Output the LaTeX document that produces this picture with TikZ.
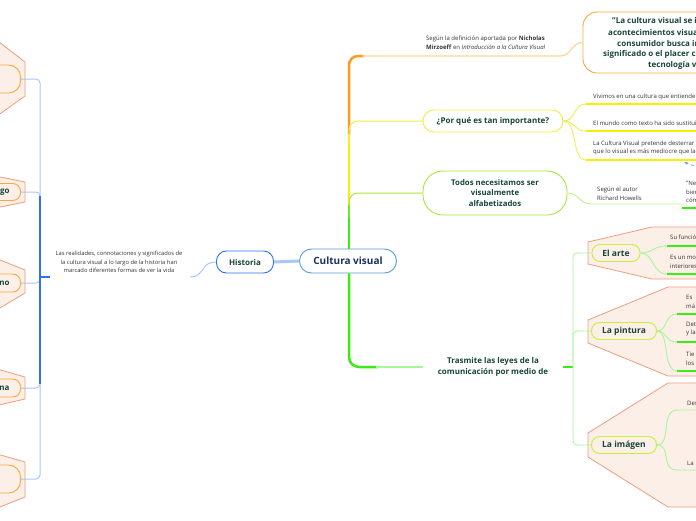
\documentclass[tikz,border=0pt]{standalone}
\usepackage{fontspec}
\setmainfont{Open Sans}
\usetikzlibrary{arrows.meta}
\definecolor{txtgreen}{HTML}{17453A}
\definecolor{navy}{HTML}{1B2F5E}
\definecolor{hexfill}{HTML}{FCEFE8}
\definecolor{hexline}{HTML}{EE9E7E}
\definecolor{boxorange}{HTML}{F7A93A}
\definecolor{trunkorange}{HTML}{FF9A1F}
\definecolor{lightorange}{HTML}{FFD49A}
\definecolor{yel}{HTML}{EEEE40}
\definecolor{yelbar}{HTML}{F5F000}
\definecolor{lime}{HTML}{A6E83A}
\definecolor{limelight}{HTML}{C0F08A}
\definecolor{artline}{HTML}{C8EE3C}
\definecolor{grn}{HTML}{3DEB14}
\definecolor{grnlight}{HTML}{A8F59A}
\definecolor{blu}{HTML}{2F6FF0}
\definecolor{blulight}{HTML}{A9C6FA}
\definecolor{cvline}{HTML}{5B9BD5}
\definecolor{smalltxt}{HTML}{333333}
\tikzset{
  small/.style={font=\fontsize{6}{8.8}\selectfont, text=smalltxt, inner sep=0pt, align=left},
  topic/.style={font=\fontsize{8}{11}\selectfont\bfseries, text=txtgreen, draw, line width=0.9pt,
    fill=white, rounded corners=9pt, inner sep=0pt, align=center},
  hex/.style={fill=hexfill, draw=hexline, line width=0.8pt},
  lbox/.style={anchor=east, draw=boxorange, fill=hexfill, line width=0.9pt, rounded corners=8pt,
    text width=40pt, align=right, inner xsep=11pt, inner ysep=0pt,
    font=\fontsize{8}{10}\selectfont\bfseries, text=txtgreen},
  qline/.style={anchor=west, inner sep=0pt, font=\fontsize{8}{10}\selectfont\bfseries, text=txtgreen},
  subtopic/.style={topic, draw=artline, fill=hexfill, rounded corners=8pt},
  gbar/.style={grn, line width=2pt},
  gthin/.style={grnlight, line width=0.9pt},
}
\begin{document}
\begin{tikzpicture}[x=1pt,y=-1pt]
\useasboundingbox (0,0) rectangle (696,520);
\clip (0,0) rectangle (696,520);

% ---------- hexagon backgrounds ----------
\draw[hex] (-10,35) -- (25,62) -- (25,96) -- (-10,121) -- cycle;
\draw[hex] (-10,175) -- (25,182) -- (25,202) -- (-10,209) -- cycle;
\draw[hex] (-10,256) -- (25,270) -- (25,293) -- (-10,314) -- cycle;
\draw[hex] (-10,367) -- (25,377) -- (25,399) -- (-10,407) -- cycle;
\draw[hex] (-10,452) -- (25,462) -- (25,497) -- (-10,511) -- cycle;
\draw[hex] (588,242) -- (652,227) -- (710,227) -- (710,279) -- (652,279) -- (588,264) -- cycle;
\draw[hex] (588,320) -- (668,287) -- (710,287) -- (710,376) -- (668,376) -- (588,343) -- cycle;
\draw[hex] (588,433) -- (668,383) -- (710,383) -- (710,507) -- (668,507) -- (588,457) -- cycle;

% ---------- nodes ----------
\node[topic, draw=cvline, text=navy, font=\fontsize{10}{12}\selectfont\bfseries,
  minimum width=97pt, minimum height=24pt, rounded corners=12pt] (cv) at (348,261) {Cultura visual};
\node[topic, draw=blu, minimum width=57pt, minimum height=22pt, rounded corners=10pt] (hist) at (245,262) {Historia};
\node[small, align=center, font=\fontsize{5.8}{8.6}\selectfont] (real) at (119,262)
  {Las realidades, connotaciones y significados de\\la cultura visual a lo largo de la historia han\\marcado diferentes formas de ver la vida};

\node[lbox, minimum height=28pt, rounded corners=12pt] (L1) at (21,79) {};
\node[lbox, minimum height=17pt] (L2) at (21,192) {go};
\node[lbox, minimum height=18pt] (L3) at (21,283) {no};
\node[lbox, minimum height=18pt] (L4) at (21,388) {na};
\node[lbox, minimum height=28pt, rounded corners=12pt] (L5) at (21,479) {};

\node[topic, draw=boxorange, rounded corners=14pt, minimum width=137pt, minimum height=61pt] (Q) at (651.5,42.5) {};
\node[qline] (q1) at (612,20) {"La cultura visual se i};
\node[qline] (q2) at (608,32) {acontecimientos visua};
\node[qline] (q3) at (617,43) {consumidor busca in};
\node[qline] (q4) at (603,54) {significado o el placer c};
\node[qline] (q5) at (648,65) {tecnología v};
\node[small, anchor=west] (mirz) at (426,42.5)
  {Según la definición aportada por \textbf{Nicholas}\\\textbf{Mirzoeff} en \textit{Introducción a la Cultura Visual}};

\node[topic, draw=yel, minimum width=140pt, minimum height=22pt, rounded corners=11pt] (por) at (493,121) {¿Por qué es tan importante?};
\node[small, anchor=west] (v1) at (593,97) {Vivimos en una cultura que entiende a};
\node[small, anchor=west] (v2) at (593,123) {El mundo como texto ha sido sustituido};
\node[small, anchor=west] (v3) at (593,148) {La Cultura Visual pretende desterrar\\que lo visual es más mediocre que la};

\node[topic, draw=lime, font=\fontsize{7.8}{10.8}\selectfont\bfseries, minimum width=144pt, minimum height=44pt, rounded corners=20pt]
  (todos) at (495,193) {Todos necesitamos ser\\visualmente\\alfabetizados};
\node[small, anchor=west] (howells) at (597,193.5) {Según el autor\\Richard Howells};
\node[small, anchor=west] (ne) at (686,192) {"Ne\\bien\\cóm};

\node[font=\fontsize{8}{11}\selectfont\bfseries, text=txtgreen, align=center, inner sep=0pt, minimum width=140pt]
  (trasm) at (493,367) {Trasmite las leyes de la\\comunicación por medio de};

\node[subtopic, font=\fontsize{8.5}{10}\selectfont\bfseries, minimum width=48pt, minimum height=17pt] (arte) at (616,253) {El arte};
\node[subtopic, font=\fontsize{8.5}{10}\selectfont\bfseries, minimum width=65pt, minimum height=17pt] (pintura) at (624,331) {La pintura};
\node[subtopic, font=\fontsize{8.5}{10}\selectfont\bfseries, minimum width=65pt, minimum height=17pt] (imagen) at (624,445) {La imágen};

\node[small, anchor=west] (a1) at (670,237) {Su funció};
\node[small, anchor=west] (a2) at (670,261.5) {Es un mo\\interiores};
\node[small, anchor=west] (p1) at (686,302) {Es\\má};
\node[small, anchor=west] (p2) at (686,329) {Det\\y la};
\node[small, anchor=west] (p3) at (686,359) {Tie\\los};
\node[small, anchor=west] (i1) at (687,403) {Des};
\node[small, anchor=west] (i2) at (687,463) {La};

% ---------- coordinates ----------
\coordinate (hub) at (40,277);
\coordinate (realL) at (50,277);
\coordinate (realR) at (190,277);
\coordinate (rhub) at (573,367);
\coordinate (edge) at (705,0);

% ---------- left connectors ----------
\foreach \n in {L1,L2,L3,L4,L5}
  \draw[blulight, line width=1pt, rounded corners=4pt] (\n.east) -| (hub);
\draw[blu, line width=1.3pt] (40,196) -- (40,384);
\draw[blu, line width=2pt] (hub) -- (realL);
\draw[blulight, line width=1pt] (realR) .. controls (205,277) and (200,262) .. (hist.west);
\draw[blulight, line width=3pt] (hist.east) -- (cv.west);

% ---------- right trunk ----------
\draw[trunkorange, line width=2.5pt, rounded corners=9pt] (364,56) -| (349,135);
\draw[lightorange, line width=1.2pt] (362,56) -- (560,56) .. controls (572,56) and (571,42.5) .. (Q.west);
\draw[yelbar, line width=2.5pt] (349,134) -- (349,206);
\draw[yel, line width=1pt, rounded corners=9pt] (349,145) |- (por.west);
\draw[grn, line width=2.5pt] (349,205) -- (cv.north -| 349,0);
\draw[lime, line width=1pt, rounded corners=9pt] (349,218) |- (todos.west);
\draw[grn, line width=2.5pt, rounded corners=10pt] (cv.south -| 349,0) |- (378,367);
\draw[grnlight, line width=1.2pt] (376,367) -- (trasm.west);

% ---------- por qué children ----------
\draw[yel, line width=0.8pt] (por.east) .. controls (576,121) and (573,104) .. (586,104);
\draw[yel, line width=0.8pt] (por.east) .. controls (576,121) and (573,131) .. (586,131);
\draw[yel, line width=0.8pt] (por.east) .. controls (578,121) and (571,160) .. (586,160);
\draw[yelbar, line width=2pt] (586,104) -- (705,104);
\draw[yelbar, line width=2pt] (586,131) -- (705,131);
\draw[yelbar, line width=2pt] (586,160) -- (705,160);

% ---------- todos children ----------
\draw[limelight, line width=0.9pt] (todos.east) .. controls (580,193) and (578,204) .. (592,204) -- (684,204);
\draw[gbar] (682,208) -- (705,208);
\draw[blu!70, dashed, line width=0.7pt, -{Stealth[length=4pt,width=3pt]}] (705,170) -- (684,162);

% ---------- trasmite children ----------
\draw[gbar] (trasm.east) -- (rhub);
\draw[gthin, rounded corners=4pt] (arte.west) -| (rhub);
\draw[gthin, rounded corners=4pt] (pintura.west) -| (rhub);
\draw[gthin, rounded corners=4pt] (imagen.west) -| (rhub);

\draw[gthin] (arte.east) .. controls (654,253) and (652,246) .. (667,246);
\draw[gthin] (arte.east) .. controls (654,253) and (652,274) .. (667,274);
\draw[gbar] (667,246) -- (705,246);
\draw[gbar] (667,274) -- (705,274);

\draw[gthin] (pintura.east) .. controls (668,331) and (664,314) .. (677,314);
\draw[gthin] (pintura.east) .. controls (668,331) and (664,342) .. (677,342);
\draw[gthin] (pintura.east) .. controls (670,331) and (662,371) .. (677,371);
\draw[gbar] (677,314) -- (705,314);
\draw[gbar] (677,342) -- (705,342);
\draw[gbar] (677,371) -- (705,371);

\draw[gthin] (imagen.east) .. controls (672,445) and (660,410) .. (677,410) -- (705,410);
\draw[gthin] (imagen.east) .. controls (672,445) and (660,470) .. (677,470) -- (705,470);
\end{tikzpicture}
\end{document}
